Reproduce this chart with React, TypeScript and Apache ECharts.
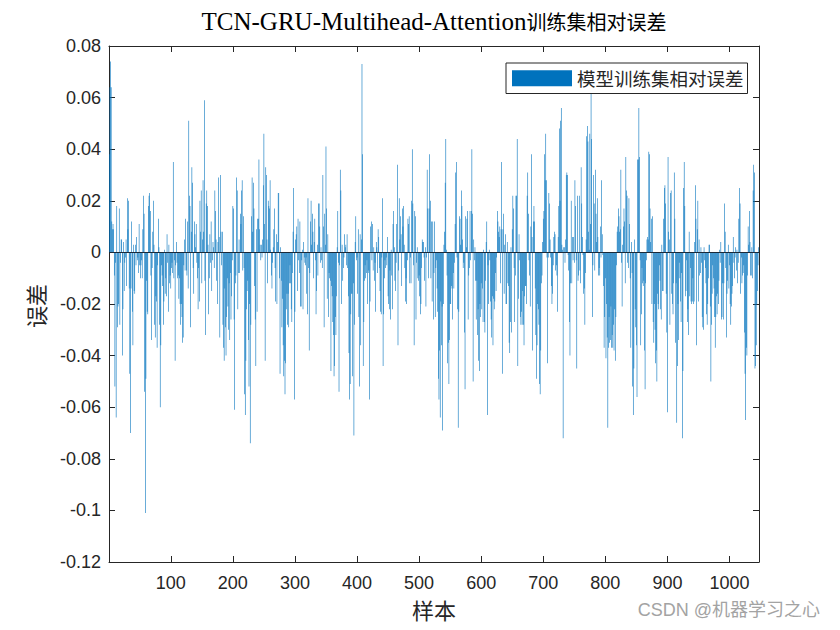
import React, { useEffect, useRef } from "react";
import * as echarts from "echarts";

// Relative error of each training sample, in units of 0.001
const errorsMilli1 = [
  38, 64, 74, 64, 12, 9, 11, 9, -9, -52,
  -4, -64, 18, -29, -21, -20, 17, -28, -4, 5,
  5, -40, -22, 4, -15, -4, -2, 5, -13, 21,
  9, 20, -14, -47, -70, -14, 12, -23, -36, 3,
  -15, -16, 3, -5, 6, -3, -2, -8, 11, -5,
  -10, -5, -3, -10, 9, 22, 15, -54, -101, -49,
  -11, -23, -24, 18, 22, 23, 16, -9, -34, -6,
  8, 20, 3, -28, -33, -17, -19, -37, -5, 13,
  2, -28, -60, -36, -5, -9, -13, -28, -19, 1,
  -16, -10, -17, 7, -4, -23, 3, -12, -9, -14,
  -6, -4, -8, 35, -10, -3, -42, -5, 4, -4,
  -10, -9, -18, -10, -20, -28, -20, -25, -35, -33,
  -5, 5, -7, 13, -7, -9, 12, -14, 51, 22,
  18, -29, 8, 33, 27, -6, -16, 12, 7, 2,
  11, -4, -10, -22, -6, -19, 20, 8, 24, -12,
];
const errorsMilli2 = [
  5, 28, 8, 59, -11, -32, 19, 24, 18, 3,
  -24, -10, 7, -4, 12, -15, -3, 4, 2, -6,
  24, 16, 5, -11, -20, 4, 29, 6, -33, 30,
  8, -5, 8, -28, -37, -42, -14, -29, -40, -25,
  -10, -21, -30, -12, -34, -8, -26, -17, -3, 18,
  17, -26, -61, -12, -9, 29, 24, -22, -8, 5,
  -8, 15, 11, 24, 28, -7, 14, -6, -55, -63,
  -42, -22, -15, -11, -34, -52, -20, -74, -28, 14,
  29, 8, 27, 17, -13, -26, -44, 9, -23, 13,
  13, 36, 9, 3, -3, 3, -2, 5, 26, 46,
  11, -42, 33, 30, 5, -12, 20, 18, 17, 28,
  1, -9, -14, -4, 2, 9, 17, -6, -19, 7,
  -20, 4, 23, 23, -10, -47, 2, -11, -29, -18,
  -36, -48, -42, -55, -43, -22, -16, -28, -16, -29,
  -12, -5, -12, -22, -27, -8, 8, 25, -57, -23,
];
const errorsMilli3 = [
  5, 7, 10, -15, 13, -3, -8, 12, -21, -21,
  -3, 1, -22, 4, -2, -4, -5, -2, -16, -24,
  21, -6, -38, -8, 12, 20, 3, 15, 8, -10,
  4, 13, -3, -24, -15, 3, -9, 19, 19, 10,
  -4, 2, -3, -6, 30, 10, -29, 15, 3, 41,
  17, -18, 7, -25, -8, -10, -11, -46, -13, -17,
  -27, -32, -48, -44, -25, -32, -17, 2, 16, -4,
  -54, -5, 32, 24, -20, 3, -11, -6, -2, 7,
  2, 3, -5, 7, -6, -17, -39, -57, -51, -24,
  -16, -16, -48, -12, -71, -28, 4, 14, -3, -2,
  -16, 9, -25, -52, 7, -36, 5, 73, 38, -44,
  -27, -11, -5, -10, -8, -3, -20, -8, -7, -57,
  -19, 10, 12, -3, 11, -7, 2, -11, -4, -23,
  4, 2, -8, 9, 6, -6, -15, -23, -24, -2,
  21, -44, -24, -10, -3, -6, -2, -5, 6, -17,
];
const errorsMilli4 = [
  -20, -22, -7, -26, 1, -9, -22, 11, 16, 2,
  -11, -15, -4, 11, 34, -36, -7, 21, 5, 14,
  7, -13, 17, 10, 18, 3, -6, -19, -10, -20,
  -3, 13, 11, 14, -12, -2, -12, 20, 40, 19,
  -5, -36, 16, 14, -26, -4, 2, -10, -11, -9,
  -17, -24, -20, -6, 5, 4, 4, -2, -11, 2,
  -21, -2, 32, 17, -10, 17, 38, 20, -10, 12,
  -19, 12, -26, -8, 12, -25, -6, -3, -14, -23,
  -49, -57, -38, -64, -19, -36, -21, -69, -20, 3,
  8, 27, 44, 1, -9, -43, -35, -51, -34, -20,
  -20, -13, -14, -26, -8, -14, -4, 11, 31, 35,
  -2, -22, -68, -23, 14, 13, 3, 24, 18, 5,
  -6, -4, -31, -53, 14, 2, 13, 16, -26, -9,
  -6, 16, -3, 16, 40, 15, -50, 5, -3, 2,
  -11, -26, -11, -32, -22, -42, -46, -20, -25, -12,
];
const errorsMilli5 = [
  -22, -14, -27, 1, -27, -31, -11, 4, 12, -63,
  -5, -20, 1, -3, -19, -26, -33, -17, -36, -18,
  -22, -19, -8, -15, -2, 16, 12, 8, 6, 10,
  -12, 9, 35, -47, 9, 15, -16, 3, 7, -20,
  -20, 4, -12, -13, -35, -39, -27, 2, -31, 9,
  22, 17, -6, -27, -9, 22, 22, 44, -44, -18,
  7, -3, -25, -28, -23, -28, -15, -28, -36, -17,
  -13, -13, -20, 22, 31, 15, -3, -9, -21, 10,
  38, 6, -38, 12, 18, 12, -14, -32, -49, -36,
  -20, -22, -28, -51, -55, -38, -12, -9, 4, 13,
  16, 38, 28, 46, 28, -2, -43, -2, 23, 19,
  5, -2, -13, -20, -16, -5, 6, 8, 7, -7,
  -5, -9, -23, 6, 18, 48, 20, 51, 56, 3,
  1, -72, 2, 2, -4, 5, 30, 31, 30, -1,
  -7, -27, -40, -12, 20, -12, 6, -3, 6, -4,
];
const errorsMilli6 = [
  28, 18, -3, -45, 22, -11, -9, 22, -7, -12,
  33, 19, 6, -1, -16, -14, -28, -8, 5, 45,
  49, 43, 8, 1, 46, 11, 62, 44, -25, -5,
  30, 19, -7, 32, 15, 4, 21, 6, -9, -6,
  -9, 10, -2, 28, 7, -1, -13, -37, -25, -10,
  -41, -20, -33, -68, -37, -25, -35, -34, -21, -37,
  -32, -37, -28, -38, -22, -42, -25, -5, 8, 10,
  17, 14, 8, 9, 32, -4, -21, 3, 10, 17,
  12, -12, 37, 24, 22, -4, -6, 21, 11, -10,
  -37, 4, -8, -52, -63, -45, 5, -22, -29, -36,
  -56, 36, 36, 56, 37, -3, -36, -24, -6, -12,
  -13, -11, -38, -53, -12, -3, 5, 6, 5, 39,
  38, 17, 4, 13, -20, 14, -27, -35, -20, -30,
  -43, -38, -50, -16, -20, -22, -5, -11, -22, -26,
  3, -15, -15, 13, 25, 26, 19, -16, -31, -62,
];
const errorsMilli7 = [
  37, 8, 5, -28, 23, 24, -16, -20, -24, -12,
  31, 13, -35, -12, -66, -44, -20, -34, -4, -10,
  -19, -27, -8, -72, -46, 25, 35, 18, -17, -15,
  -3, -27, -22, -32, 8, -17, -6, -19, -20, -19,
  -10, -20, -19, 4, 26, 13, -36, 9, 20, -19,
  5, -9, -8, 2, -4, -25, -29, -30, 2, -3,
  -6, -12, -24, -28, -20, -10, 3, 3, -21, -50,
  -28, -16, -5, -10, -14, -25, -37, -25, -17, -24,
  -16, -20, -11, 1, -4, 4, -26, -25, -12, -26,
  -12, 19, 8, -6, -33, -16, -11, 3, -14, -5,
  -20, -28, -21, -16, -13, 6, -4, -10, -2, 2,
  -7, 1, -12, -4, 13, 25, 19, -16, -2, -12,
  -9, -8, -5, -31, -47, -65, -37, -40, -9, 10,
  3, 16, 4, -9, -9, 2, -10, 24, 34, 31,
  -45, -44, -36, -20, -15, -5, 2,
];

const errorValues = [
  ...errorsMilli1, ...errorsMilli2, ...errorsMilli3, ...errorsMilli4,
  ...errorsMilli5, ...errorsMilli6, ...errorsMilli7,
].map((v) => v / 1000);
const sampleLabels = errorValues.map((_, k) => String(k + 1));
const xTickValues = [100, 200, 300, 400, 500, 600, 700, 800, 900, 1000];
const yMin = -0.12;
const yMax = 0.08;
const yStep = 0.02;

const titleLatin = "TCN-GRU-Multihead-Attention";
const titleCJK = "训练集相对误差";
const legendLabel = "模型训练集相对误差";
const xAxisName = "样本";
const yAxisName = "误差";
const watermarkText = "CSDN @机器学习之心";

export default function App() {
  const ref = useRef<HTMLDivElement>(null);
  useEffect(() => {
    const chart = echarts.init(ref.current as HTMLDivElement, null, { renderer: "svg" });
    const axisColor = "#262626";
    const sans = "'Liberation Sans', Arial, sans-serif";
    const cjk = "'Noto Sans CJK SC', sans-serif";
    const isTick = (i: number) => xTickValues.includes(i + 1);
    const fmtY = (v: number) => String(parseFloat(v.toFixed(2)));
    chart.setOption({
      animation: false,
      backgroundColor: "#ffffff",
      grid: { left: 109, top: 46, width: 650, height: 516, containLabel: false },
      legend: {
        show: true,
        data: [legendLabel],
        left: 506,
        top: 63,
        orient: "horizontal",
        icon: "rect",
        itemWidth: 60,
        itemHeight: 16,
        padding: [6, 4, 6, 6],
        backgroundColor: "#ffffff",
        borderColor: axisColor,
        borderWidth: 1,
        selectedMode: false,
        textStyle: { fontFamily: cjk, fontSize: 18.5, color: axisColor, fontWeight: "normal" },
      },
      xAxis: [
        {
          type: "category",
          data: sampleLabels,
          position: "bottom",
          boundaryGap: true,
          axisLine: { show: true, onZero: false, lineStyle: { color: axisColor, width: 1 } },
          axisTick: {
            show: true, inside: true, length: 6, alignWithLabel: true,
            interval: (i: number) => isTick(i),
            lineStyle: { color: axisColor },
          },
          axisLabel: {
            show: true,
            interval: (i: number) => isTick(i),
            color: axisColor,
            fontSize: 18,
            fontFamily: sans,
            margin: 12,
          },
          splitLine: { show: false },
        },
        {
          type: "category",
          data: sampleLabels,
          position: "top",
          boundaryGap: true,
          axisLine: { show: true, onZero: false, lineStyle: { color: axisColor, width: 1 } },
          axisTick: {
            show: true, inside: true, length: 6, alignWithLabel: true,
            interval: (i: number) => isTick(i),
            lineStyle: { color: axisColor },
          },
          axisLabel: { show: false },
          splitLine: { show: false },
        },
      ],
      yAxis: [
        {
          type: "value",
          min: yMin,
          max: yMax,
          interval: yStep,
          position: "left",
          axisLine: { show: true, onZero: false, lineStyle: { color: axisColor, width: 1 } },
          axisTick: { show: true, inside: true, length: 6, lineStyle: { color: axisColor } },
          axisLabel: { color: axisColor, fontSize: 18, fontFamily: sans, margin: 8, formatter: fmtY },
          splitLine: { show: false },
        },
        {
          type: "value",
          min: yMin,
          max: yMax,
          interval: yStep,
          position: "right",
          axisLine: { show: true, onZero: false, lineStyle: { color: axisColor, width: 1 } },
          axisTick: { show: true, inside: true, length: 6, lineStyle: { color: axisColor } },
          axisLabel: { show: false },
          splitLine: { show: false },
        },
      ],
      series: [
        {
          type: "bar",
          name: legendLabel,
          xAxisIndex: 0,
          yAxisIndex: 0,
          data: errorValues,
          barCategoryGap: "5%",
          barMinWidth: 0.1,
          itemStyle: { color: "#0072BD" },
          emphasis: { disabled: true },
          markLine: {
            silent: true,
            symbol: ["none", "none"],
            label: { show: false },
            lineStyle: { color: "#1a2a3a", width: 1.2, type: "solid" },
            data: [{ yAxis: 0 }],
          },
        },
      ],
      graphic: [
        {
          type: "text",
          x: 434,
          y: 21,
          silent: true,
          style: {
            text: `{a|${titleLatin}}{b|${titleCJK}}`,
            align: "center",
            verticalAlign: "middle",
            fontWeight: "normal",
            rich: {
              a: { fontFamily: "'Liberation Serif', serif", fontSize: 25, fontWeight: "normal", fill: "#000000", lineHeight: 30 },
              b: { fontFamily: cjk, fontSize: 20, fontWeight: "normal", fill: "#000000", lineHeight: 30 },
            },
          },
        },
        {
          type: "text",
          x: 434,
          y: 609,
          silent: true,
          style: {
            text: xAxisName, align: "center", verticalAlign: "middle",
            fontFamily: cjk, fontSize: 22, fontWeight: "normal", fill: axisColor,
          },
        },
        {
          type: "text",
          x: 35,
          y: 306,
          rotation: Math.PI / 2,
          silent: true,
          style: {
            text: yAxisName, align: "center", verticalAlign: "middle",
            fontFamily: cjk, fontSize: 22, fontWeight: "normal", fill: axisColor,
          },
        },
        {
          type: "text",
          x: 820,
          y: 610,
          silent: true,
          style: {
            text: watermarkText, align: "right", verticalAlign: "middle",
            fontFamily: "'Liberation Sans', 'Noto Sans CJK SC', sans-serif", fontSize: 18, fontWeight: "normal", fill: "#a3a3a3",
          },
        },
      ],
    });
    return () => chart.dispose();
  }, []);
  return (
    <div
      ref={ref}
      style={{ position: "fixed", left: 0, top: 0, width: 840, height: 630, background: "#ffffff" }}
    />
  );
}
